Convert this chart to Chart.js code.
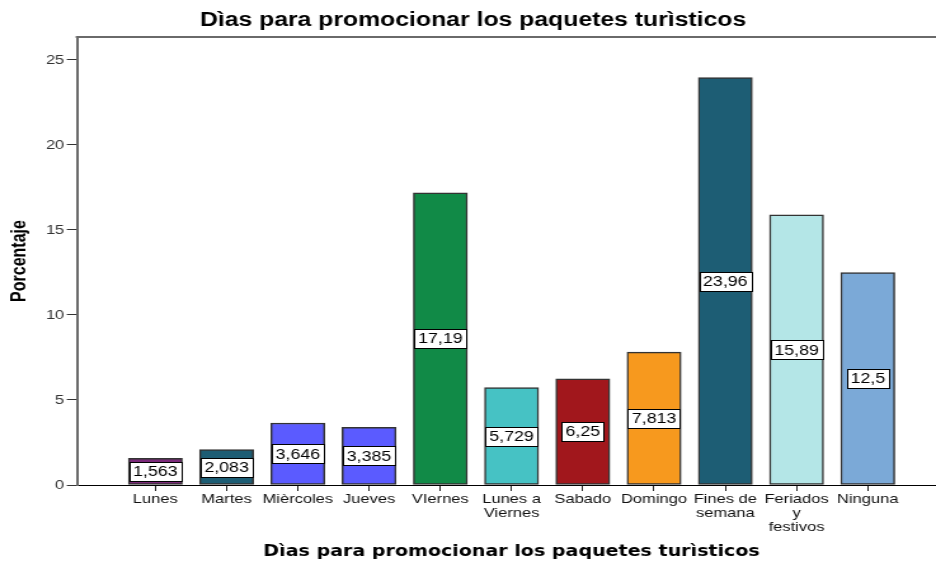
<!DOCTYPE html>
<html>
<head>
<meta charset="utf-8">
<script src="https://cdn.jsdelivr.net/npm/chart.js@4/dist/chart.umd.min.js"></script>
<style>
  html, body { margin: 0; padding: 0; background: #fff; overflow: hidden; }
  /* el original está estirado en horizontal */
  #wrap { width: 745px; height: 561px; transform: scaleX(1.27); transform-origin: 0 0; }
</style>
</head>
<body>
<div id="wrap"><canvas id="diasChart"></canvas></div>
<script>
// Datos
const dias = ['Lunes', 'Martes', 'Mièrcoles', 'Jueves', 'VIernes', ['Lunes a', 'Viernes'], 'Sabado',
    'Domingo', ['Fines de', 'semana'], ['Feriados', 'y', 'festivos'], 'Ninguna'];
const porcentajes = [1.563, 2.083, 3.646, 3.385, 17.19, 5.729, 6.25, 7.813, 23.96, 15.89, 12.5];
const colores = ['#7b2a7a', '#1d5d74', '#5b5bff', '#5b5bff', '#118a47', '#46c2c4', '#a1171c',
    '#f7991e', '#1d5d74', '#b4e6e7', '#7ba9d7'];
const ticksY = [0, 5, 10, 15, 20, 25];

// Etiquetas con el valor en el centro de cada barra
const etiquetasBarras = {
    id: 'etiquetasBarras',
    afterDatasetsDraw(chart) {
        const ctx = chart.ctx;
        const meta = chart.getDatasetMeta(0);
        ctx.save();
        ctx.font = '14px "Liberation Sans", Arial, sans-serif';
        ctx.textAlign = 'center';
        ctx.textBaseline = 'middle';
        meta.data.forEach((bar, i) => {
            const texto = String(porcentajes[i]).replace('.', ',');
            const w = Math.round(ctx.measureText(texto).width + 6);
            const h = 19;
            const cy = (bar.y + bar.base) / 2;
            const x0 = Math.round(bar.x - w / 2) + 0.5;
            const y0 = Math.round(cy - h / 2) + 0.5;
            ctx.fillStyle = '#fff';
            ctx.fillRect(x0, y0, w, h);
            ctx.strokeStyle = '#000';
            ctx.lineWidth = 1;
            ctx.strokeRect(x0, y0, w, h);
            ctx.fillStyle = '#000';
            ctx.fillText(texto, bar.x, cy + 1);
        });
        ctx.restore();
    }
};

// Línea superior del marco
const marcoSuperior = {
    id: 'marcoSuperior',
    afterDraw(chart) {
        const { ctx, chartArea } = chart;
        ctx.save();
        ctx.strokeStyle = '#6a6a6a';
        ctx.lineWidth = 2;
        ctx.beginPath();
        ctx.moveTo(chartArea.left - 1, chartArea.top);
        ctx.lineTo(chartArea.right, chartArea.top);
        ctx.stroke();
        ctx.restore();
    }
};

new Chart(document.getElementById('diasChart'), {
    type: 'bar',
    data: {
        datasets: [{
            data: porcentajes.map((v, i) => ({ x: i, y: v })),
            backgroundColor: colores,
            borderColor: '#333',
            borderWidth: 1.5,
            borderSkipped: false,
            barThickness: 42.5
        }]
    },
    options: {
        responsive: true,
        maintainAspectRatio: false,
        animation: false,
        layout: { padding: 0 },
        plugins: {
            legend: { display: false },
            tooltip: { enabled: false },
            title: {
                display: true,
                text: 'Dìas para promocionar los paquetes turìsticos',
                color: '#000',
                font: { family: '"Liberation Sans", Arial, sans-serif', size: 19.5, weight: 'bold' },
                padding: { top: 9, bottom: 4.6 }
            }
        },
        scales: {
            x: {
                type: 'linear',
                min: -1.1,
                max: 11.1,
                offset: false,
                afterBuildTicks: axis => { axis.ticks = dias.map((_, i) => ({ value: i })); },
                afterFit: scale => { scale.height = 76; },
                ticks: {
                    autoSkip: false,
                    maxRotation: 0,
                    padding: 1,
                    color: '#111',
                    font: { family: '"Liberation Sans", Arial, sans-serif', size: 13, lineHeight: 1.1 },
                    callback: value => dias[value]
                },
                grid: { drawOnChartArea: false, offset: false, tickLength: 6, color: '#222' },
                border: { color: '#000', width: 1 },
                title: {
                    display: true,
                    text: 'Dìas para promocionar los paquetes turìsticos',
                    color: '#000',
                    font: { family: '"DejaVu Sans", Verdana, sans-serif', size: 15, weight: 'bold' },
                    padding: { top: 0, bottom: 0 }
                }
            },
            y: {
                min: 0,
                max: 26.35,
                afterBuildTicks: axis => { axis.ticks = ticksY.map(v => ({ value: v })); },
                afterFit: scale => { scale.width = 60.6; },
                ticks: {
                    padding: 2,
                    color: '#333',
                    font: { family: '"Liberation Sans", Arial, sans-serif', size: 13 }
                },
                grid: { drawOnChartArea: false, tickLength: 8, color: '#333' },
                border: { color: '#6a6a6a', width: 2 },
                title: {
                    display: true,
                    text: 'Porcentaje',
                    color: '#000',
                    font: { family: '"Liberation Sans", Arial, sans-serif', size: 16, weight: 'bold' },
                    padding: { top: 6, bottom: 0 }
                }
            }
        }
    },
    plugins: [etiquetasBarras, marcoSuperior]
});
</script>
</body>
</html>
